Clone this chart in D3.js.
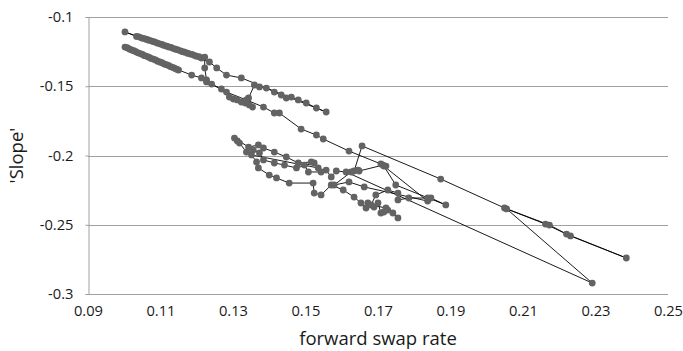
<!DOCTYPE html>
<html>
<head>
<meta charset="utf-8">
<script src="https://cdn.jsdelivr.net/npm/d3@7/dist/d3.min.js"></script>
<style>
  body { margin: 0; background: #fff; }
  text { font-family: "Open Sans", sans-serif; fill: #1a1a1a; }
</style>
</head>
<body>
<div id="chart"></div>
<script>
// forward swap rate (x) and 'Slope' (y), in the order the path visits them
const forwardSwapRate = [
  0.1002, 0.1008, 0.1014, 0.1020, 0.1026, 0.1032, 0.1038, 0.1044, 0.1050, 0.1056, 0.1062, 0.1068, 0.1074, 0.1080, 0.1086, 0.1092, 0.1098, 0.1104, 0.1110, 0.1116, 0.1122, 0.1128, 0.1134, 0.1140, 0.1146, 0.1150, 0.1186, 0.1213, 0.1227,
  0.1268, 0.1290, 0.1301, 0.1312, 0.1323, 0.1334, 0.1345, 0.1354, 0.1343,
  0.1359, 0.1373, 0.1392, 0.1414, 0.1433, 0.1447, 0.1461, 0.1480, 0.1502, 0.1530, 0.1557,
  0.1323, 0.1282, 0.1255, 0.1235,
  0.1002, 0.1034, 0.1040, 0.1047, 0.1053, 0.1060, 0.1066, 0.1072, 0.1079, 0.1085, 0.1091, 0.1098, 0.1104, 0.1110, 0.1117, 0.1123, 0.1129, 0.1136, 0.1142, 0.1148, 0.1155, 0.1161, 0.1167, 0.1174, 0.1180, 0.1187, 0.1193, 0.1199, 0.1206, 0.1213, 0.1222,
  0.1222, 0.1227, 0.1241, 0.1282, 0.1337, 0.1384, 0.1414, 0.1428, 0.1488, 0.1530, 0.1549, 0.1620, 0.1708, 0.1722,
  0.1714, 0.1648, 0.1634, 0.1656, 0.1873, 0.2049, 0.2173, 0.2220, 0.2385, 0.2231, 0.2162, 0.2055, 0.2291,
  0.1612, 0.1585, 0.1571, 0.1557, 0.1543, 0.1508, 0.1497, 0.1524, 0.1475, 0.1442, 0.1414, 0.1384, 0.1373, 0.1356, 0.1337, 0.1318, 0.1312, 0.1304,
  0.1343, 0.1370, 0.1384, 0.1414, 0.1447, 0.1480, 0.1516, 0.1535,
  0.1351, 0.1365, 0.1370, 0.1400, 0.1420, 0.1455, 0.1521, 0.1524, 0.1543,
  0.1571, 0.1604, 0.1634, 0.1653, 0.1667, 0.1672, 0.1689, 0.1700, 0.1708, 0.1716, 0.1727, 0.1755, 0.1741, 0.1722, 0.1681,
  0.1694, 0.1727, 0.1755, 0.1755, 0.1785, 0.1837, 0.1846, 0.1887, 0.1749, 0.1716, 0.1837,
  0.1662, 0.1620, 0.1579, 0.1626, 0.1645
]
const slope = [
  -0.1217, -0.1222, -0.1231, -0.1238, -0.1243, -0.1251, -0.1259, -0.1264, -0.1270, -0.1279, -0.1284, -0.1290, -0.1299, -0.1304, -0.1310, -0.1319, -0.1325, -0.1330, -0.1339, -0.1344, -0.1350, -0.1359, -0.1364, -0.1371, -0.1379, -0.1383, -0.1419, -0.1440, -0.1469,
  -0.1520, -0.1578, -0.1592, -0.1599, -0.1614, -0.1621, -0.1635, -0.1650, -0.1585,
  -0.1491, -0.1505, -0.1513, -0.1542, -0.1563, -0.1585, -0.1578, -0.1599, -0.1621, -0.1657, -0.1686,
  -0.1440, -0.1419, -0.1368, -0.1325,
  -0.1108, -0.1140, -0.1143, -0.1150, -0.1155, -0.1160, -0.1166, -0.1170, -0.1177, -0.1181, -0.1188, -0.1194, -0.1198, -0.1205, -0.1211, -0.1216, -0.1220, -0.1228, -0.1233, -0.1237, -0.1244, -0.1250, -0.1254, -0.1261, -0.1266, -0.1270, -0.1277, -0.1283, -0.1287, -0.1296, -0.1289,
  -0.1368, -0.1455, -0.1484, -0.1542, -0.1599, -0.1650, -0.1693, -0.1693, -0.1809, -0.1852, -0.1881, -0.1968, -0.2061, -0.2076,
  -0.2069, -0.2112, -0.2112, -0.1931, -0.2170, -0.2379, -0.2502, -0.2567, -0.2740, -0.2581, -0.2495, -0.2386, -0.2921,
  -0.2119, -0.2112, -0.2155, -0.2105, -0.2119, -0.2119, -0.2069, -0.2054, -0.2090, -0.2069, -0.2054, -0.2032, -0.1982, -0.1960, -0.1975, -0.1910, -0.1895, -0.1874,
  -0.1939, -0.1924, -0.1946, -0.1975, -0.2011, -0.2054, -0.2047, -0.2090,
  -0.1996, -0.2047, -0.2090, -0.2141, -0.2162, -0.2199, -0.2199, -0.2271, -0.2285,
  -0.2213, -0.2249, -0.2300, -0.2343, -0.2379, -0.2343, -0.2372, -0.2343, -0.2415, -0.2408, -0.2394, -0.2451, -0.2415, -0.2379, -0.2357,
  -0.2285, -0.2249, -0.2271, -0.2321, -0.2307, -0.2307, -0.2307, -0.2357, -0.2213, -0.2076, -0.2329,
  -0.2227, -0.2191, -0.2213, -0.2119, -0.2105
]
const xTicks = [0.09, 0.11, 0.13, 0.15, 0.17, 0.19, 0.21, 0.23, 0.25]
const yTicks = [-0.3, -0.25, -0.2, -0.15, -0.1]

const points = forwardSwapRate.map((x, i) => ({rate: x, slope: slope[i]}))

const W = 683
const H = 351
const margin = {top: 17, right: 15, bottom: 57, left: 88}
const width = W - margin.left - margin.right
const height = H - margin.top - margin.bottom

const svg = d3.select('#chart')
    .append('svg')
    .attr('width', W)
    .attr('height', H)

const g = svg.append('g')
    .attr('transform', `translate(${margin.left},${margin.top})`)

const xScale = d3.scaleLinear()
    .domain([0.09, 0.25])
    .range([0, width])

const yScale = d3.scaleLinear()
    .domain([-0.3, -0.1])
    .range([height, 0])

// horizontal gridlines
g.selectAll('.grid')
    .data(yTicks)
    .enter()
    .append('line')
    .attr('x1', 0)
    .attr('x2', width)
    .attr('y1', d => Math.round(yScale(d)) + 0.5)
    .attr('y2', d => Math.round(yScale(d)) + 0.5)
    .attr('stroke', '#a0a0a0')
    .attr('stroke-width', 1)

// y axis
const yAxis = g.append('g')
    .attr('transform', 'translate(0.5,0)')
    .call(d3.axisLeft(yScale).tickValues(yTicks).tickSize(3).tickPadding(12).tickFormat(d => String(d)))
yAxis.select('.domain').attr('stroke', '#a0a0a0')
yAxis.selectAll('.tick line').attr('stroke', '#a0a0a0')
yAxis.selectAll('.tick text').attr('font-size', '14.7px').attr('fill', '#1a1a1a')

// x axis labels (no ticks)
const xAxis = g.append('g')
    .attr('transform', `translate(0,${height})`)
    .call(d3.axisBottom(xScale).tickValues(xTicks).tickSize(0).tickPadding(12).tickFormat(d3.format('.2f')))
xAxis.select('.domain').remove()
xAxis.selectAll('.tick text').attr('font-size', '14.7px').attr('fill', '#1a1a1a')

// axis titles
svg.append('text')
    .attr('x', 378)
    .attr('y', 345)
    .attr('text-anchor', 'middle')
    .attr('font-size', '18.5px')
    .text('forward swap rate')

svg.append('text')
    .attr('transform', `translate(23,${margin.top + height / 2}) rotate(-90)`)
    .attr('text-anchor', 'middle')
    .attr('font-size', '18.5px')
    .text("'Slope'")

// connecting line
const line = d3.line()
    .x(d => xScale(d.rate))
    .y(d => yScale(d.slope))

g.append('path')
    .datum(points)
    .attr('fill', 'none')
    .attr('stroke', '#000')
    .attr('stroke-width', 0.9)
    .attr('d', line)

// markers
g.selectAll('.dot')
    .data(points)
    .enter()
    .append('circle')
    .attr('cx', d => xScale(d.rate))
    .attr('cy', d => yScale(d.slope))
    .attr('r', 3.4)
    .attr('fill', '#636363')
</script>
</body>
</html>
